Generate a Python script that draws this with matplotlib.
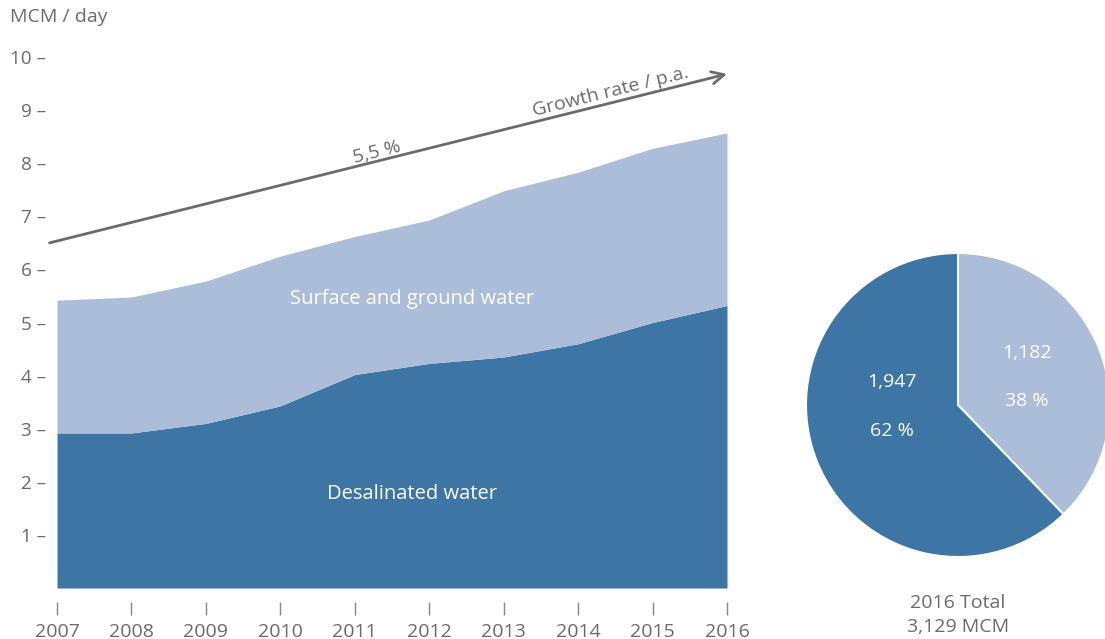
import numpy as np
import matplotlib
matplotlib.use("Agg")
import matplotlib.pyplot as plt

# ---------------------------------------------------------------------
# DATA
# ---------------------------------------------------------------------
years = [2007, 2008, 2009, 2010, 2011, 2012, 2013, 2014, 2015, 2016]
desalinated = [2.92, 2.92, 3.10, 3.43, 4.02, 4.23, 4.35, 4.60, 5.00, 5.32]
surface_ground = [2.50, 2.56, 2.68, 2.82, 2.60, 2.70, 3.13, 3.23, 3.28, 3.25]

y_ticks = [1, 2, 3, 4, 5, 6, 7, 8, 9, 10]

growth_start = (2006.9, 6.5)
growth_end = (2016.0, 9.68)
growth_rate_label = "5,5 %"

pie_labels = ["Surface and ground water", "Desalinated water"]
pie_values = [1182, 1947]
pie_year = 2016

# ---------------------------------------------------------------------
# STYLE
# ---------------------------------------------------------------------
DARK = "#3d76a4"
LIGHT = "#abbdd8"
GREY = "#6b6b6b"

plt.rcParams["font.family"] = ["Open Sans", "DejaVu Sans"]
plt.rcParams["font.size"] = 14

fig = plt.figure(figsize=(11.05, 6.39), dpi=100)

# ---------------------------------------------------------------------
# STACKED AREA
# ---------------------------------------------------------------------
ax = fig.add_axes([57 / 1105, 51 / 639, 670 / 1105, 531 / 639])
total = np.array(desalinated) + np.array(surface_ground)
ax.fill_between(years, 0, desalinated, color=DARK, linewidth=0)
ax.fill_between(years, desalinated, total, color=LIGHT, linewidth=0)

ax.set_xlim(years[0], years[-1])
ax.set_ylim(0, 10)
ax.set_xticks(years)
ax.set_xticklabels([str(y) for y in years], fontsize=13.6)
ax.set_yticks(y_ticks)
ax.set_yticklabels([f"{t} –" for t in y_ticks], fontsize=13.6)

for s in ["top", "right", "left"]:
    ax.spines[s].set_visible(False)
ax.spines["bottom"].set_position(("outward", 10))
ax.spines["bottom"].set_visible(False)
ax.tick_params(axis="x", direction="out", length=9, width=1, color="#888888",
               pad=6, labelcolor=GREY)
ax.tick_params(axis="y", length=0, pad=8, labelcolor=GREY)

fig.text(10 / 1105, 1 - 17 / 639, "MCM / day", color=GREY, ha="left", va="center")

ax.text(2011.77, 5.44, pie_labels[0], color="white", ha="center", va="center", fontsize=14.5)
ax.text(2011.77, 1.77, pie_labels[1], color="white", ha="center", va="center", fontsize=14.5)

# growth arrow
ax.annotate("", xy=growth_end, xytext=growth_start, annotation_clip=False,
            arrowprops=dict(arrowstyle="->", color=GREY, lw=2,
                            mutation_scale=22, shrinkA=0, shrinkB=0))
p0 = ax.transData.transform(growth_start)
p1 = ax.transData.transform(growth_end)
angle = np.degrees(np.arctan2(p1[1] - p0[1], p1[0] - p0[0]))
ax.text(2014.44, 9.34, "Growth rate / p.a.", color=GREY, ha="center", va="center",
        rotation=angle, rotation_mode="anchor", fontsize=14)
ax.text(2011.30, 8.21, growth_rate_label, color=GREY, ha="center", va="center",
        rotation=angle, rotation_mode="anchor", fontsize=14)

# ---------------------------------------------------------------------
# PIE
# ---------------------------------------------------------------------
pax = fig.add_axes([806 / 1105, (639 - 405 - 152) / 639, 304 / 1105, 304 / 639])
wedges, _ = pax.pie(pie_values, colors=[LIGHT, DARK], startangle=90,
                    counterclock=False, radius=1,
                    wedgeprops=dict(edgecolor="white", linewidth=1.5))
for w in wedges:
    w.set_clip_on(False)
pax.set_xlim(-1, 1)
pax.set_ylim(-1, 1)
pax.set_aspect("equal")
pax.axis("off")

pie_total = sum(pie_values)
shares = [round(100 * v / pie_total) for v in pie_values]
pax.text(0.454, 0.34, f"{pie_values[0]:,}", color="white", ha="center", va="center")
pax.text(0.454, 0.026, f"{shares[0]} %", color="white", ha="center", va="center")
pax.text(-0.434, 0.151, f"{pie_values[1]:,}", color="white", ha="center", va="center")
pax.text(-0.434, -0.171, f"{shares[1]} %", color="white", ha="center", va="center")

fig.text(958 / 1105, 1 - 603 / 639, f"{pie_year} Total", color=GREY, ha="center", va="center")
fig.text(958 / 1105, 1 - 627 / 639, f"{pie_total:,} MCM", color=GREY, ha="center", va="center")

fig.savefig("out.png", dpi=100)
